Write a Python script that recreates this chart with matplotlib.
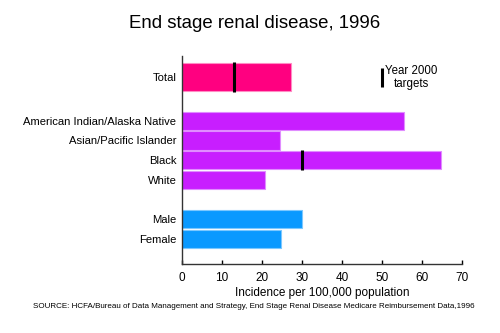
import matplotlib
matplotlib.use("Agg")
import matplotlib.pyplot as plt

plt.rcParams['font.family'] = ['Liberation Sans', 'DejaVu Sans']

categories = ["Total", "American Indian/Alaska Native", "Asian/Pacific Islander",
              "Black", "White", "Male", "Female"]
values = [27.3, 55.6, 24.6, 64.8, 20.8, 30.0, 24.7]
targets = {"Total": 13.0, "Black": 30.0}
positions = [8.22, 6, 5, 4, 3, 1, 0]
heights = [1.4, 0.92, 0.92, 0.92, 0.92, 0.92, 0.92]
colors = ["#FF0080", "#C81EFF", "#C81EFF", "#C81EFF", "#C81EFF", "#0A99FF", "#0A99FF"]
edges = ["#FF8CC4", "#E08CFF", "#E08CFF", "#E08CFF", "#E08CFF", "#7CC8FF", "#7CC8FF"]
xticks = [0, 10, 20, 30, 40, 50, 60, 70]

fig = plt.figure(figsize=(5.0, 3.33), dpi=100)
ax = fig.add_axes([0.364, 0.207, 0.56, 0.625])

ax.barh(positions, values, height=heights, color=colors, edgecolor=edges, linewidth=0.8)
for cat, t in targets.items():
    i = categories.index(cat)
    y = positions[i]
    h = heights[i]
    ax.plot([t, t], [y - h / 2 - 0.05, y + h / 2 + 0.05], color="black", lw=2.2,
            solid_capstyle="butt")

ax.set_xlim(0, 70)
ax.set_ylim(-1.27, 9.29)
ax.set_yticks(positions)
ax.set_yticklabels(categories, fontsize=8.1)
ax.tick_params(axis="y", length=0, pad=4)
ax.set_xticks(xticks)
ax.set_xticklabels([str(v) for v in xticks], fontsize=8.5)
ax.tick_params(axis="x", direction="in", length=3, width=1, pad=6)
ax.set_xlabel("Incidence per 100,000 population", fontsize=8.5, labelpad=2)
for s in ["top", "right"]:
    ax.spines[s].set_visible(False)
for s in ["left", "bottom"]:
    ax.spines[s].set_linewidth(1.0)
    ax.spines[s].set_color("#333333")

fig.text(0.509, 0.93, "End stage renal disease, 1996", fontsize=13.4, ha="center", va="center")

# legend marker
fig.add_artist(plt.Line2D([381.7 / 500, 381.7 / 500], [1 - 68 / 333, 1 - 86.7 / 333],
                          color="black", lw=2.2, solid_capstyle="butt"))
fig.text(411.5 / 500, 1 - 77.5 / 333, "Year 2000\ntargets", fontsize=8.3, ha="center",
         va="center", linespacing=1.2)

fig.text(33 / 500, 1 - 306 / 333,
         "SOURCE: HCFA/Bureau of Data Management and Strategy, End Stage Renal Disease Medicare Reimbursement Data,1996",
         fontsize=5.8, ha="left", va="center")

fig.savefig("out.png", dpi=100)
